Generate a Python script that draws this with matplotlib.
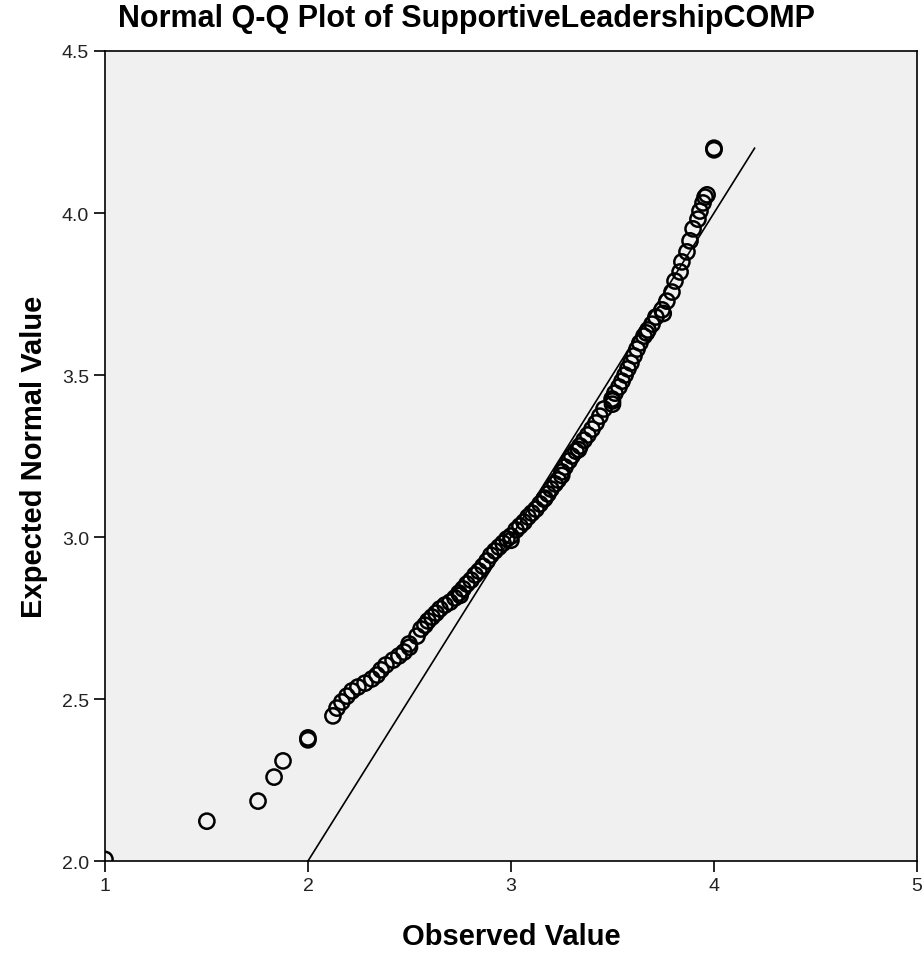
import matplotlib
matplotlib.use("Agg")
import matplotlib.pyplot as plt

plt.rcParams["font.family"] = ["Liberation Sans", "DejaVu Sans"]

observed = [1.000, 1.502, 1.754, 1.833, 1.877, 2.000, 2.000, 2.123, 2.143, 2.167,
            2.192, 2.217, 2.246, 2.281, 2.315, 2.340, 2.360, 2.384, 2.419, 2.448,
            2.473, 2.498, 2.537, 2.557, 2.576, 2.591, 2.611, 2.631, 2.650, 2.675,
            2.700, 2.724, 2.744, 2.764, 2.783, 2.803, 2.823, 2.842, 2.862, 2.882,
            2.901, 2.921, 2.941, 2.961, 2.980, 3.000, 3.025, 3.044, 3.064, 3.084,
            3.103, 3.123, 3.143, 3.163, 3.182, 3.197, 3.217, 3.232, 3.251, 3.266,
            3.286, 3.300, 3.320, 3.340, 3.360, 3.379, 3.399, 3.419, 3.438, 3.458,
            3.498, 3.512, 3.532, 3.547, 3.562, 3.576, 3.591, 3.606, 3.621, 3.635,
            3.655, 3.675, 3.695, 3.714, 3.744, 3.768, 3.793, 3.808, 3.833, 3.842,
            3.867, 3.882, 3.897, 3.921, 3.931, 3.946, 3.956, 3.966, 4.000, 4.000,
            3.000, 3.250, 3.500, 3.500, 3.750, 2.500, 2.750, 3.333, 3.667, 3.167]
expected = [2.005, 2.123, 2.185, 2.259, 2.309, 2.374, 2.380, 2.448, 2.472, 2.491,
            2.509, 2.525, 2.537, 2.549, 2.562, 2.574, 2.590, 2.605, 2.620, 2.633,
            2.645, 2.670, 2.694, 2.716, 2.728, 2.741, 2.753, 2.765, 2.778, 2.790,
            2.799, 2.812, 2.827, 2.840, 2.855, 2.867, 2.883, 2.895, 2.910, 2.926,
            2.944, 2.957, 2.969, 2.981, 2.994, 3.003, 3.022, 3.034, 3.046, 3.062,
            3.074, 3.086, 3.102, 3.117, 3.133, 3.148, 3.164, 3.176, 3.201, 3.216,
            3.235, 3.250, 3.265, 3.281, 3.299, 3.315, 3.333, 3.352, 3.373, 3.395,
            3.426, 3.444, 3.463, 3.481, 3.500, 3.519, 3.537, 3.559, 3.580, 3.599,
            3.620, 3.639, 3.657, 3.679, 3.701, 3.728, 3.756, 3.790, 3.818, 3.849,
            3.880, 3.914, 3.951, 3.981, 4.006, 4.031, 4.049, 4.056, 4.195, 4.200,
            2.990, 3.190, 3.410, 3.420, 3.690, 2.660, 2.820, 3.270, 3.630, 3.120]

# reference line y = x
ref_line = [2.0, 4.2]

x_ticks = [1, 2, 3, 4, 5]
y_ticks = [2.0, 2.5, 3.0, 3.5, 4.0, 4.5]

fig = plt.figure(figsize=(9.24, 9.54), dpi=100)
ax = fig.add_axes([0.1136, 0.0964, 0.8788, 0.8491])
ax.set_facecolor("#f0f0f0")

ax.plot(ref_line, ref_line, color="black", lw=1.2, zorder=2)
ax.scatter(observed, expected, s=120, facecolors="none", edgecolors="black",
           linewidths=1.8, zorder=3)

ax.set_xlim(1, 5)
ax.set_ylim(2.0, 4.5)
ax.set_xticks(x_ticks)
ax.set_xticklabels([str(t) for t in x_ticks])
ax.set_yticks(y_ticks)
ax.set_yticklabels([f"{t:.1f}" for t in y_ticks])
ax.tick_params(direction="out", length=8, width=1.2, colors="black",
               labelsize=14, labelcolor="#222222")

for s in ax.spines.values():
    s.set_color("black")
    s.set_linewidth(1.2)

fig.text(0.505, 0.980, "Normal Q-Q Plot of SupportiveLeadershipCOMP",
         ha="center", va="center", fontsize=22, fontweight="bold")
ax.set_xlabel("Observed Value", fontsize=21, fontweight="bold", labelpad=20)
ax.set_ylabel("Expected Normal Value", fontsize=21, fontweight="bold", labelpad=10)

plt.savefig("out.png", dpi=100)
plt.close()
